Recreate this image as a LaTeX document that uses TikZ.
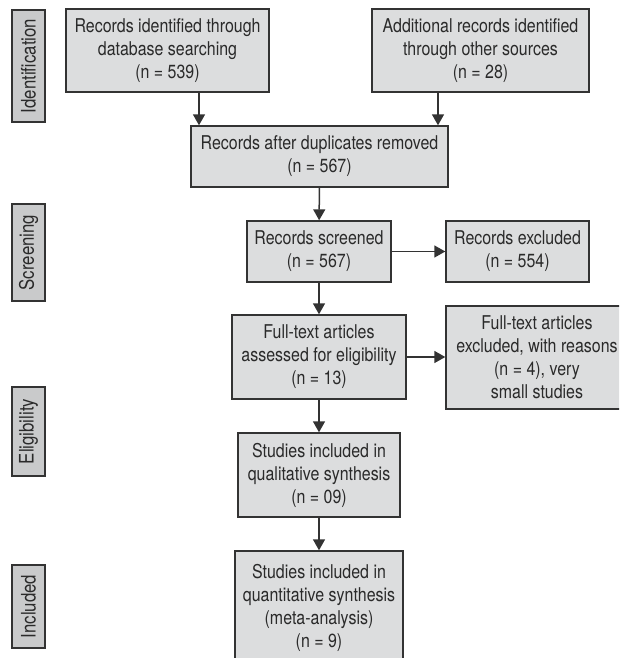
\documentclass[tikz,border=0pt]{standalone}
\usepackage{fontspec}
\setmainfont{TeX Gyre Heros}[FakeStretch=0.84]
\usetikzlibrary{positioning}
\usetikzlibrary{arrows.meta}
\definecolor{boxfill}{HTML}{DCDDDE}
\definecolor{phasefill}{HTML}{C9CACB}
\definecolor{linegray}{HTML}{333333}
\definecolor{textgray}{HTML}{2A2A2A}
\tikzset{
    box/.style 2 args={ % Flow boxes, #1 = width, #2 = height
        draw=linegray,
        fill=boxfill,
        line width=1.4pt,
        text=textgray,
        align=center,
        inner sep=0pt,
        minimum width=#1,
        minimum height=#2,
        font=\fontsize{19}{23}\selectfont
    },
    phase/.style={ % Stage labels on the left, #1 = length
        draw=linegray,
        fill=phasefill,
        line width=1.4pt,
        text=textgray,
        rotate=90,
        inner sep=0pt,
        minimum width=#1,
        minimum height=33pt,
        font=\fontsize{20}{22}\selectfont
    },
    every edge/.style={ % Arrows between the boxes
        draw=linegray,
        line width=1.5pt,
        -{Triangle[length=11pt,width=12pt]}
    }
}

\begin{document}
\begin{tikzpicture}[x=1pt, y=-1pt]
            \clip (0,0) rectangle (619,658);

            \node[phase=112pt] (ident) at (28.5,66) {Identification};
            \node[phase=97pt] (screen) at (28.5,252.5) {Screening};
            \node[phase=89pt] (elig) at (28.5,431.5) {Eligibility};
            \node[phase=83pt] (incl) at (28.5,606.5) {Included};

            \node[box={203pt}{83pt}] (db) at (167.5,50.5) {Records identified through\\database searching\\(n = 539)};
            \node[box={217pt}{83pt}] (other) at (480.5,50.5) {Additional records identified\\through other sources\\(n = 28)};
            \node[box={257pt}{61pt}] (dup) at (319.5,156.5) {Records after duplicates removed\\(n = 567)};
            \node[box={144pt}{61pt}] (scr) at (319,251.5) {Records screened\\(n = 567)};
            \node[box={143pt}{61pt}] (excl) at (517.5,251.5) {Records excluded\\(n = 554)};
            \node[box={174pt}{84pt}] (full) at (319,357) {Full-text articles\\assessed for eligibility\\(n = 13)};
            \node[box={182pt}{103pt}] (fullexcl) at (537,357.5) {Full-text articles\\excluded, with reasons\\(n = 4), very\\small studies};
            \node[box={162pt}{84pt}] (qual) at (319,475) {Studies included in\\qualitative synthesis\\(n = 09)};
            \node[box={168pt}{114pt}] (quant) at (319,608) {Studies included in\\quantitative synthesis\\(meta-analysis)\\(n = 9)};

            \coordinate (dbin) at (199,0);
            \coordinate (otherin) at (438,0);

            \draw (db.south -| dbin) edge (dup.north -| dbin);
            \draw (other.south -| otherin) edge (dup.north -| otherin);
            \draw (dup) edge (scr);
            \draw (scr) edge (excl);
            \draw (scr) edge (full);
            \draw (full) edge (fullexcl.west |- full);
            \draw (full) edge (qual);
            \draw (qual) edge (quant);
        \end{tikzpicture}
\end{document}
